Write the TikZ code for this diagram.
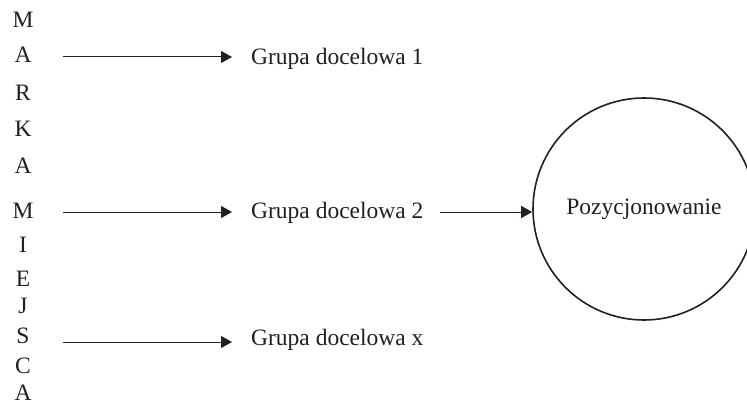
\documentclass[tikz,border=0pt]{standalone}
\usepackage{fontspec}
\setmainfont{Liberation Serif}
\usetikzlibrary{arrows.meta}
\definecolor{ink}{RGB}{35,31,32}
\begin{document}
\begin{tikzpicture}[x=1pt,y=1pt,
  every node/.style={text=ink, font=\fontsize{23.5}{28}\selectfont},
  letter/.style={anchor=base, inner sep=0pt},
  group/.style={anchor=base west, inner sep=0pt},
  arr/.style={draw=ink, line width=1pt, -{Triangle[length=11pt,width=12pt]}},
  target/.style={circle, draw=ink, line width=1.6pt, minimum size=222pt, inner sep=0pt}]
  \useasboundingbox (0,0) rectangle (747,405);
  \clip (0,0) rectangle (747,405);
  % vertical caption
  \node[letter] (l1)  at (23,377) {M};
  \node[letter] (l2)  at (23,342) {A};
  \node[letter] (l3)  at (23,304) {R};
  \node[letter] (l4)  at (23,268) {K};
  \node[letter] (l5)  at (23,232) {A};
  \node[letter] (l6)  at (23,186) {M};
  \node[letter] (l7)  at (23,153) {I};
  \node[letter] (l8)  at (23,119) {E};
  \node[letter] (l9)  at (23,92)  {J};
  \node[letter] (l10) at (23,62)  {S};
  \node[letter] (l11) at (23,32)  {C};
  \node[letter] (l12) at (23,5)   {A};
  % target groups
  \node[group] (g1) at (251,340) {Grupa docelowa 1};
  \node[group] (g2) at (251,187) {Grupa docelowa 2};
  \node[group] (g3) at (251,60)  {Grupa docelowa x};
  % positioning
  \node[target] (poz) at (644,196) {Pozycjonowanie};
  % arrow starts
  \coordinate (s1) at (63,348);
  \coordinate (s2) at (63,193);
  \coordinate (s3) at (63,63);
  \draw[arr, shorten >=19pt] (s1) -- (s1 -| g1.west);
  \draw[arr, shorten >=19pt] (s2) -- (s2 -| g2.west);
  \draw[arr, shorten >=19pt] (s3) -- (s3 -| g3.west);
  \draw[arr, shorten <=16pt] (g2.east |- s2) -- (s2 -| poz.west);
\end{tikzpicture}
\end{document}
